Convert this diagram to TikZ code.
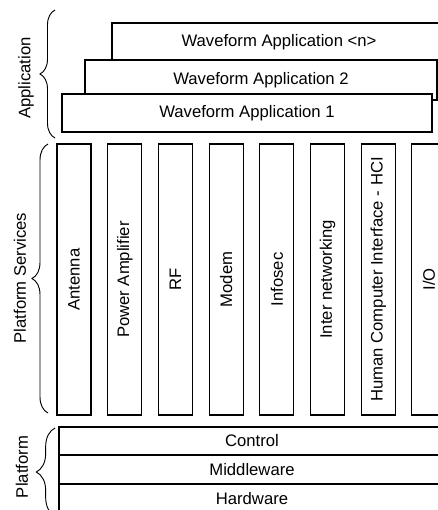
\documentclass[tikz,border=0pt]{standalone}
\usepackage{fontspec}
\setmainfont{Liberation Sans}
\usepackage{tikz}
\usetikzlibrary{positioning, decorations.pathreplacing}

\begin{document}
\begin{tikzpicture}[x=0.75pt, y=-0.75pt, line width=0.8pt,
  font=\fontsize{12.5}{15}\selectfont,
  layer/.style={draw, fill=white, inner sep=0pt},
  grpbrace/.style={decorate, decoration={brace, amplitude=#1}, line width=0.7pt}]
\useasboundingbox (0,0) rectangle (438,510);
\clip (0,0) rectangle (438,510);
% Application
\node[layer, minimum width=250.5pt, minimum height=28.5pt] (appn) at (279,42) {Waveform Application <n>};
\node[layer, minimum width=264pt, minimum height=30pt] (app2) at (261,80) {Waveform Application 2};
\node[layer, minimum width=277.5pt, minimum height=28.5pt] (app1) at (247,113) {Waveform Application 1};
% Platform services
\foreach \i/\lbl in {0/Antenna, 1/Power Amplifier, 2/RF, 3/Modem, 4/Infosec,
  5/Inter networking, 6/Human Computer Interface - HCI, 7/{I/O}}{
\node[layer, rotate=90, minimum width=203.25pt, minimum height=25.5pt] (svc\i) at (74+50.7*\i,279.5) {\lbl};
}
% Platform
\node[layer, minimum width=289.5pt, minimum height=21pt] (control) at (252,441) {Control};
\node[layer, minimum width=289.5pt, minimum height=21.75pt] (middleware) at (252,469.5) {Middleware};
\node[layer, minimum width=289.5pt, minimum height=21.75pt] (hardware) at (252,498.5) {Hardware};
% Braces
\coordinate (appbot) at (55,138);
\coordinate (apptop) at (55,10);
\coordinate (svcbot) at (48,413);
\coordinate (svctop) at (48,144);
\coordinate (platbot) at (55,516);
\coordinate (plattop) at (55,428);
\draw[grpbrace=11.25pt] (appbot) -- (apptop);
\draw[grpbrace=12pt] (svcbot) -- (svctop);
\draw[grpbrace=14pt] (platbot) -- (plattop);
\node[rotate=90] (applbl) at (26,78) {Application};
\node[rotate=90] (svclbl) at (20,278) {Platform Services};
\node[rotate=90] (platlbl) at (22,467) {Platform};
\end{tikzpicture}
\end{document}
